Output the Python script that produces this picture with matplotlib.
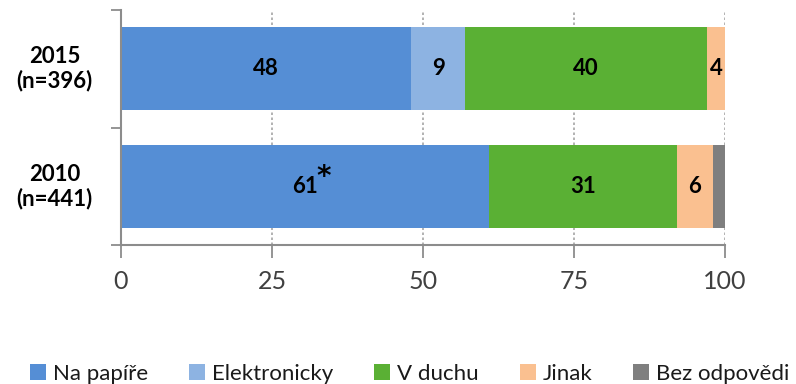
import matplotlib
matplotlib.use("Agg")
import matplotlib.pyplot as plt
from matplotlib.patches import Patch
import numpy as np

plt.rcParams['font.family'] = ['Lato', 'DejaVu Sans']

categories = ["2015\n(n=396)", "2010\n(n=441)"]
series_names = ["Na papíře", "Elektronicky", "V duchu", "Jinak", "Bez odpovědi"]
na_papire = [48, 61]
elektronicky = [9, 0]
v_duchu = [40, 31]
jinak = [4, 6]
bez_odpovedi = [0, 2]
value_notes = [["", "", "", "", ""], ["*", "", "", "", ""]]
x_ticks = [0, 25, 50, 75, 100]

colors = ["#558ED5", "#8DB3E2", "#5AB034", "#FAC090", "#7F7F7F"]
series = [na_papire, elektronicky, v_duchu, jinak, bez_odpovedi]

fig = plt.figure(figsize=(7.96, 3.84), dpi=100)
ax = fig.add_axes([121 / 796, 139 / 384, 604 / 796, 235 / 384])

y = np.arange(len(categories))
left = np.zeros(len(categories))
for name, vals, col in zip(series_names, series, colors):
    vals = np.array(vals, dtype=float)
    ax.barh(y, vals, left=left, height=0.71, color=col, label=name, zorder=2)
    left += vals

# value labels (small segments are left unlabeled); keep them inside the axis range
left = np.zeros(len(categories))
for si, (vals, col) in enumerate(zip(series, colors)):
    for ci, v in enumerate(vals):
        if v >= 3:
            seg_end = min(left[ci] + v, 100)
            cx = (left[ci] + seg_end) / 2
            ax.text(cx, y[ci], f"{v}", ha="center", va="center",
                    fontsize=16, fontweight="bold", color="black", zorder=3)
            note = value_notes[ci][si]
            if note:
                ax.text(cx + 1.8, y[ci] - 0.08, note, ha="left", va="center",
                        fontsize=20, fontweight="bold", color="black", zorder=3,
                        family="DejaVu Sans")
    left += np.array(vals, dtype=float)

ax.set_xlim(0, 100)
ax.set_ylim(1.5, -0.5)

# dotted vertical grid
for t in x_ticks[1:]:
    ax.axvline(t, color="#A6A6A6", linestyle=(0, (1.5, 1.5)), linewidth=1.2, zorder=1)

ax.set_xticks(x_ticks)
ax.set_xticklabels([str(t) for t in x_ticks], fontsize=18, color="#404040")
ax.tick_params(axis="x", length=9, width=1.3, color="#8C8C8C", pad=9, direction="out")

ax.set_yticks([-0.5, 0.5, 1.5])
ax.set_yticklabels([])
ax.tick_params(axis="y", length=7, width=1.3, color="#8C8C8C", direction="out")

for ci, cat in enumerate(categories):
    ax.text(-0.11, y[ci], cat, transform=ax.get_yaxis_transform(), ha="center",
            va="center", fontsize=16, fontweight="bold", color="black",
            linespacing=1.15)

for s in ["top", "right"]:
    ax.spines[s].set_visible(False)
for s in ["left", "bottom"]:
    ax.spines[s].set_color("#8C8C8C")
    ax.spines[s].set_linewidth(1.5)

handles = [Patch(facecolor=c, edgecolor="none") for c in colors]
fig.legend(handles, series_names, loc="center", bbox_to_anchor=(0.515, 0.027),
           ncol=5, frameon=False, fontsize=16, handlelength=0.72,
           handleheight=0.72, handletextpad=0.3, columnspacing=1.85,
           borderaxespad=0, labelcolor="#1A1A1A")

fig.savefig("out.png", dpi=100)
